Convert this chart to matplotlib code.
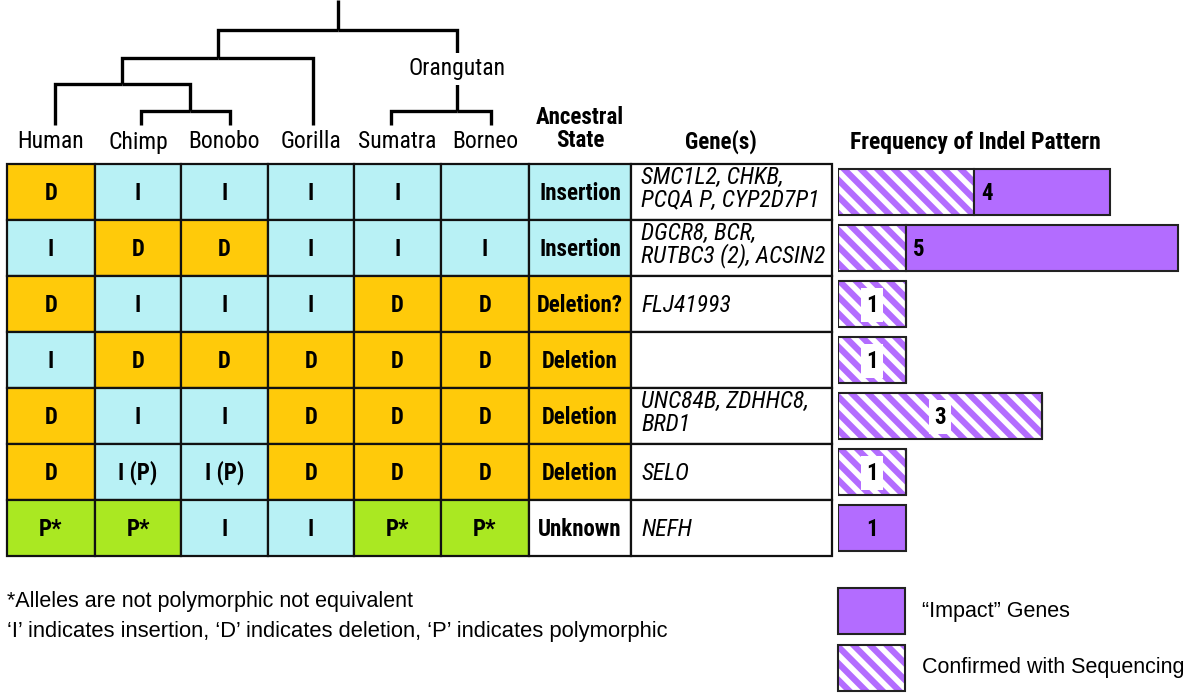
import matplotlib
matplotlib.use("Agg")
import matplotlib.pyplot as plt
from matplotlib.patches import Rectangle

plt.rcParams['hatch.linewidth'] = 4.0
NARROW = ['Roboto Condensed', 'DejaVu Sans']
PLAIN = ['Liberation Sans', 'DejaVu Sans']

# ---- data ----
species = ["Human", "Chimp", "Bonobo", "Gorilla", "Sumatra", "Borneo"]
states = [
    ["D", "I", "I", "I", "I", ""],
    ["I", "D", "D", "I", "I", "I"],
    ["D", "I", "I", "I", "D", "D"],
    ["I", "D", "D", "D", "D", "D"],
    ["D", "I", "I", "D", "D", "D"],
    ["D", "I (P)", "I (P)", "D", "D", "D"],
    ["P*", "P*", "I", "I", "P*", "P*"],
]
ancestral = ["Insertion", "Insertion", "Deletion?", "Deletion",
             "Deletion", "Deletion", "Unknown"]
genes = ["SMC1L2, CHKB,\nPCQA P, CYP2D7P1",
         "DGCR8, BCR,\nRUTBC3 (2), ACSIN2",
         "FLJ41993", "", "UNC84B, ZDHHC8,\nBRD1", "SELO", "NEFH"]
confirmed = [2, 1, 1, 1, 3, 1, 0]
impact = [2, 4, 0, 0, 0, 0, 1]
totals = [4, 5, 1, 1, 3, 1, 1]

# ---- colours ----
ORANGE = '#FFCA0A'
CYAN = '#B8F1F5'
GREEN = '#AAE822'
PURPLE = '#B36CFF'

def cell_colour(s):
    if s.startswith('D'):
        return ORANGE
    if s.startswith('P'):
        return GREEN
    return CYAN

def anc_colour(s):
    if s.startswith('Insertion'):
        return CYAN
    if s.startswith('Deletion'):
        return ORANGE
    return 'white'

fig = plt.figure(figsize=(12, 6.95), dpi=100)
ax = fig.add_axes([0, 0, 1, 1])
ax.set_xlim(0, 1200)
ax.set_ylim(695, 0)
ax.axis('off')

# table layout (pixels)
col_edges = [7, 95, 181, 268, 354, 441, 529, 631, 832]
row_top, row_h = 164, 56
cell_kw = dict(ha='center', va='center', fontsize=16.5, fontweight='bold', family=NARROW)

for i, row in enumerate(states):
    y0 = row_top + i * row_h
    yc = y0 + row_h / 2
    for j, s in enumerate(row):
        x0, x1 = col_edges[j], col_edges[j + 1]
        ax.add_patch(Rectangle((x0, y0), x1 - x0, row_h, facecolor=cell_colour(s),
                               edgecolor='#111111', lw=1.6))
        ax.text((x0 + x1) / 2, yc + 1, s, **cell_kw)
    x0, x1 = col_edges[6], col_edges[7]
    ax.add_patch(Rectangle((x0, y0), x1 - x0, row_h, facecolor=anc_colour(ancestral[i]),
                           edgecolor='#111111', lw=1.6))
    ax.text((x0 + x1) / 2, yc + 1, ancestral[i], **cell_kw)
    x0, x1 = col_edges[7], col_edges[8]
    ax.add_patch(Rectangle((x0, y0), x1 - x0, row_h, facecolor='white',
                           edgecolor='#111111', lw=1.6))
    gy = yc - 3 if '\n' in genes[i] else yc + 1
    ax.text(x0 + 10, gy, genes[i], ha='left', va='center', fontsize=17,
            style='italic', family=NARROW, linespacing=0.95)

# headers
for j, name in enumerate(species):
    ax.text((col_edges[j] + col_edges[j + 1]) / 2, 142, name, ha='center', va='center',
            fontsize=17, family=NARROW)
ax.text((col_edges[6] + col_edges[7]) / 2, 129, "Ancestral\nState", ha='center',
        va='center', fontsize=16.5, fontweight='bold', family=NARROW, linespacing=1.05)
ax.text(721, 142, "Gene(s)", ha='center', va='center',
        fontsize=16.5, fontweight='bold', family=NARROW)
ax.text(975, 142, "Frequency of Indel Pattern", ha='center', va='center',
        fontsize=17, fontweight='bold', family=NARROW)

# tree
nodes = {
    'root': (338, 30), 'hcbg': (218, 58), 'hcb': (122, 84), 'cb': (190, 111),
    'orang': (457, 111),
    'Human': (55, 125), 'Chimp': (141, 125), 'Bonobo': (230, 125),
    'Gorilla': (313, 125), 'Sumatra': (391, 125), 'Borneo': (491, 125),
}
edges = [('root', 'hcbg'), ('root', 'orang'), ('hcbg', 'hcb'), ('hcbg', 'Gorilla'),
         ('hcb', 'Human'), ('hcb', 'cb'), ('cb', 'Chimp'), ('cb', 'Bonobo'),
         ('orang', 'Sumatra'), ('orang', 'Borneo')]
tree_kw = dict(color='black', lw=2.4, solid_capstyle='butt', solid_joinstyle='miter')
rx, ry = nodes['root']
ax.plot([rx, rx], [0, ry], **tree_kw)
for p, c in edges:
    px, py = nodes[p]
    cx, cy = nodes[c]
    ax.plot([px, cx, cx], [py, py, cy], **tree_kw)
ax.text(457, 69, "Orangutan", ha='center', va='center', fontsize=17, family=NARROW,
        zorder=5, bbox=dict(facecolor='white', edgecolor='none', pad=3))

# footnotes
ax.text(7, 601, "*Alleles are not polymorphic not equivalent", ha='left', va='center',
        fontsize=15.5, family=PLAIN)
ax.text(7, 632, "\u2018I\u2019 indicates insertion, \u2018D\u2019 indicates deletion, "
        "\u2018P\u2019 indicates polymorphic", ha='left', va='center', fontsize=15.8,
        family=PLAIN)

# legend
ax.add_patch(Rectangle((838, 588), 67, 46, facecolor=PURPLE, edgecolor='#222222', lw=1.5))
ax.add_patch(Rectangle((838, 645), 67, 46, facecolor=PURPLE, edgecolor='white', lw=0,
                       hatch='\\\\'))
ax.add_patch(Rectangle((838, 645), 67, 46, fill=False, edgecolor='#222222', lw=1.5))
ax.text(922, 611, "\u201cImpact\u201d Genes", ha='left', va='center', fontsize=15.5,
        family=PLAIN)
ax.text(922, 667, "Confirmed with Sequencing", ha='left', va='center', fontsize=15.5,
        family=PLAIN)

# bars
unit = 68
bx = fig.add_axes([838 / 1200, 1 - 556 / 695, 362 / 1200, 392 / 695])
bx.set_xlim(0, 362 / unit)
bx.set_ylim(len(totals), 0)
bx.axis('off')
ypos = [i + 0.5 for i in range(len(totals))]
bh = 46 / 56
bx.barh(ypos, confirmed, height=bh, color=PURPLE, edgecolor='white', lw=0, hatch='\\\\')
bx.barh(ypos, confirmed, height=bh, fill=False, edgecolor='#222222', lw=1.5)
bx.barh(ypos, impact, left=confirmed, height=bh, color=PURPLE, edgecolor='#222222', lw=1.5)
for y, c, m, t in zip(ypos, confirmed, impact, totals):
    kw = dict(va='center', fontsize=16.5, fontweight='bold', family=NARROW)
    if m > 0 and c > 0:
        bx.text(c + 0.1, y + 0.02, str(t), ha='left', **kw)
    elif m > 0:
        bx.text(m / 2, y + 0.02, str(t), ha='center', **kw)
    else:
        bx.text(c / 2, y + 0.02, str(t), ha='center',
                bbox=dict(facecolor='white', edgecolor='none', pad=4), **kw)

fig.savefig('out.png', dpi=100)
